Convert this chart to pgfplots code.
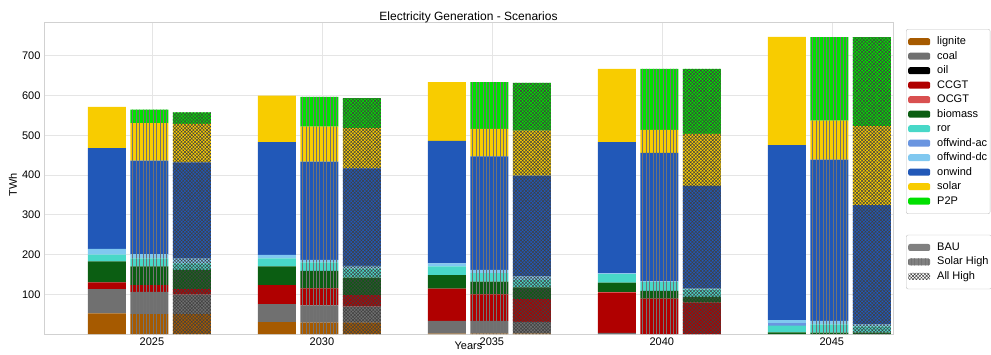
\documentclass[border=0pt]{standalone}
\usepackage{pgfplots}
\pgfplotsset{compat=1.18}
\usepackage{pgfplotstable}
\usetikzlibrary{patterns.meta}
\usepackage{fontspec}
\setmainfont{Liberation Sans}

\definecolor{clignite}{HTML}{A65A00}
\definecolor{ccoal}{HTML}{707070}
\definecolor{coil}{HTML}{000000}
\definecolor{cCCGT}{HTML}{B00000}
\definecolor{cOCGT}{HTML}{D95050}
\definecolor{cbiomass}{HTML}{0B5E12}
\definecolor{cror}{HTML}{48D8C8}
\definecolor{coffac}{HTML}{6A95E0}
\definecolor{coffdc}{HTML}{80C8F0}
\definecolor{conwind}{HTML}{2158B8}
\definecolor{csolar}{HTML}{F8CC00}
\definecolor{cP2P}{HTML}{00E000}

\pgfplotstableread{
yr lignite coal oil CCGT OCGT biomass ror offac offdc onwind solar P2P
0 52 61 0 17 0 53 16.5 0 14.5 253.5 104 0
1 30 45 0 48 0 47 20 0 9 283.5 117.5 0
2 1 31.8 0 81.6 0 33.6 22 0 7.5 308.3 148 0
3 0 3 0 100 3 23.5 21 0 2 330 184.5 0
4 0 0 0 0 0 4 17 7 7 440.3 272 0
}\bau

\pgfplotstableread{
yr lignite coal oil CCGT OCGT biomass ror offac offdc onwind solar P2P
0 50 56 0 16.8 0 47.2 20 0 11 235 94.3 34.4
1 28.6 43.7 0 42.7 0 44 21 0 6.6 247 88.4 74.7
2 1 31.8 0 67.2 0 32 21 0 8.4 285.6 69 117.7
3 0 0 0 89.2 0 19.2 22.6 0 1.5 323 58 153.5
4 0 0 0 0 0 3.5 21 0 8.3 405.8 98.4 210
}\solarhigh

\pgfplotstableread{
yr lignite coal oil CCGT OCGT biomass ror offac offdc onwind solar P2P
0 49.7 49.5 0 13.5 0 48.7 16 0 12.5 242 96.6 29.4
1 28.6 40.4 0 28.5 0 44.5 22.8 0 6.6 245.6 100.8 75.6
2 1 29.3 0 57.2 0 29.5 19 0 8.7 253.6 113.5 120.2
3 0 0 0 79 0 14.3 19 0 2 258.7 130.4 163.6
4 0 0 0 0 0 3.5 16 0 5 299.9 198.4 224.2
}\allhigh

\tikzset{
  bau/.style={fill=#1, draw=none},
  sh/.style={fill=#1, draw=none, postaction={pattern={Lines[angle=90,distance=3.4pt,line width=0.45pt]}, pattern color=black!55}},
  ah/.style={fill=#1, draw=none, postaction={pattern={Hatch[angle=45,distance=2.4pt,line width=0.5pt]}, pattern color=black!75}},
}

\pgfplotsset{
  base/.style={
    width=849pt, height=312pt, scale only axis,
    at={(44pt,20pt)}, anchor=south west,
    xmin=-0.635, xmax=4.36, ymin=0, ymax=785,
    ybar stacked, bar width=0.2235, bar shift=0pt,
    /pgf/number format/assume math mode=true,
    ticklabel style={font=\fontsize{11}{13}\selectfont},
    legend image code/.code={\fill[##1] (0pt,-3.5pt) rectangle (22pt,3.5pt);},
    legend cell align=left,
    legend style={draw=gray!50, rounded corners=2pt, fill=white,
      inner xsep=2pt, inner ysep=6pt,
      font=\fontsize{11}{13}\selectfont,
      nodes={inner sep=1pt, text height=8.5pt, text depth=2.5pt, anchor=west},
      row sep=1.5pt,
      /tikz/every odd column/.append style={column sep=6pt}},
  },
}

\begin{document}
\begin{tikzpicture}
\useasboundingbox (0,0) rectangle (991pt,354pt);
\clip (0,0) rectangle (991pt,354pt);

% BAU
\begin{axis}[base,
  xtick={0,1,2,3,4}, xticklabels={2025,2030,2035,2040,2045},
  ytick={100,200,...,700},
  grid=major, major grid style={draw=black!10, line width=0.6pt},
  axis line style={draw=black!18},
  tick style={draw=none},
  title={Electricity Generation - Scenarios},
  every axis title shift=0pt,
  title style={at={(0.5,1)}, anchor=base, yshift=1.5pt, font=\fontsize{12}{14}\selectfont},
  xlabel={Years}, ylabel={TWh},
  label style={font=\fontsize{11}{13}\selectfont},
  xlabel style={at={(rel axis cs:0.5,0)}, anchor=south, yshift=-19.5pt},
  ylabel style={at={(rel axis cs:0,0.478)}, anchor=center, yshift=31pt},
  legend style={at={(rel axis cs:1.0153,0.9775)}, anchor=north west},
]
\addplot[bau=clignite] table[x expr=\thisrow{yr}-0.265, y=lignite]{\bau}; \addlegendentry{lignite}
\addplot[bau=ccoal] table[x expr=\thisrow{yr}-0.265, y=coal]{\bau}; \addlegendentry{coal}
\addplot[bau=coil] table[x expr=\thisrow{yr}-0.265, y=oil]{\bau}; \addlegendentry{oil}
\addplot[bau=cCCGT] table[x expr=\thisrow{yr}-0.265, y=CCGT]{\bau}; \addlegendentry{CCGT}
\addplot[bau=cOCGT] table[x expr=\thisrow{yr}-0.265, y=OCGT]{\bau}; \addlegendentry{OCGT}
\addplot[bau=cbiomass] table[x expr=\thisrow{yr}-0.265, y=biomass]{\bau}; \addlegendentry{biomass}
\addplot[bau=cror] table[x expr=\thisrow{yr}-0.265, y=ror]{\bau}; \addlegendentry{ror}
\addplot[bau=coffac] table[x expr=\thisrow{yr}-0.265, y=offac]{\bau}; \addlegendentry{offwind-ac}
\addplot[bau=coffdc] table[x expr=\thisrow{yr}-0.265, y=offdc]{\bau}; \addlegendentry{offwind-dc}
\addplot[bau=conwind] table[x expr=\thisrow{yr}-0.265, y=onwind]{\bau}; \addlegendentry{onwind}
\addplot[bau=csolar] table[x expr=\thisrow{yr}-0.265, y=solar]{\bau}; \addlegendentry{solar}
\addplot[bau=cP2P] table[x expr=\thisrow{yr}-0.265, y=P2P]{\bau}; \addlegendentry{P2P}
\end{axis}

% Solar High
\begin{axis}[base, hide axis]
\addplot[sh=clignite] table[x expr=\thisrow{yr}-0.015, y=lignite]{\solarhigh};
\addplot[sh=ccoal] table[x expr=\thisrow{yr}-0.015, y=coal]{\solarhigh};
\addplot[sh=coil] table[x expr=\thisrow{yr}-0.015, y=oil]{\solarhigh};
\addplot[sh=cCCGT] table[x expr=\thisrow{yr}-0.015, y=CCGT]{\solarhigh};
\addplot[sh=cOCGT] table[x expr=\thisrow{yr}-0.015, y=OCGT]{\solarhigh};
\addplot[sh=cbiomass] table[x expr=\thisrow{yr}-0.015, y=biomass]{\solarhigh};
\addplot[sh=cror] table[x expr=\thisrow{yr}-0.015, y=ror]{\solarhigh};
\addplot[sh=coffac] table[x expr=\thisrow{yr}-0.015, y=offac]{\solarhigh};
\addplot[sh=coffdc] table[x expr=\thisrow{yr}-0.015, y=offdc]{\solarhigh};
\addplot[sh=conwind] table[x expr=\thisrow{yr}-0.015, y=onwind]{\solarhigh};
\addplot[sh=csolar] table[x expr=\thisrow{yr}-0.015, y=solar]{\solarhigh};
\addplot[sh=cP2P] table[x expr=\thisrow{yr}-0.015, y=P2P]{\solarhigh};
\end{axis}

% All High
\begin{axis}[base, hide axis,
  legend style={at={(rel axis cs:1.0153,0.318)}, anchor=north west},
]
\addplot[ah=clignite, forget plot] table[x expr=\thisrow{yr}+0.235, y=lignite]{\allhigh};
\addplot[ah=ccoal, forget plot] table[x expr=\thisrow{yr}+0.235, y=coal]{\allhigh};
\addplot[ah=coil, forget plot] table[x expr=\thisrow{yr}+0.235, y=oil]{\allhigh};
\addplot[ah=cCCGT, forget plot] table[x expr=\thisrow{yr}+0.235, y=CCGT]{\allhigh};
\addplot[ah=cOCGT, forget plot] table[x expr=\thisrow{yr}+0.235, y=OCGT]{\allhigh};
\addplot[ah=cbiomass, forget plot] table[x expr=\thisrow{yr}+0.235, y=biomass]{\allhigh};
\addplot[ah=cror, forget plot] table[x expr=\thisrow{yr}+0.235, y=ror]{\allhigh};
\addplot[ah=coffac, forget plot] table[x expr=\thisrow{yr}+0.235, y=offac]{\allhigh};
\addplot[ah=coffdc, forget plot] table[x expr=\thisrow{yr}+0.235, y=offdc]{\allhigh};
\addplot[ah=conwind, forget plot] table[x expr=\thisrow{yr}+0.235, y=onwind]{\allhigh};
\addplot[ah=csolar, forget plot] table[x expr=\thisrow{yr}+0.235, y=solar]{\allhigh};
\addplot[ah=cP2P, forget plot] table[x expr=\thisrow{yr}+0.235, y=P2P]{\allhigh};
\addlegendimage{bau=gray}
\addlegendentry{BAU}
\addlegendimage{sh=gray}
\addlegendentry{Solar High}
\addlegendimage{ah=white}
\addlegendentry{All High}
\end{axis}
\end{tikzpicture}
\end{document}
